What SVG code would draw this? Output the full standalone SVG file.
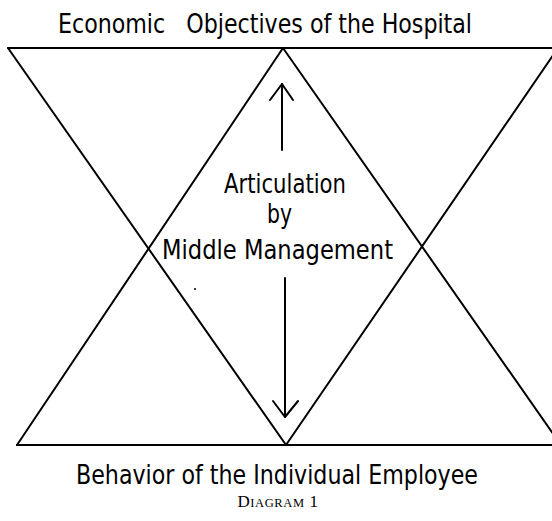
<svg xmlns="http://www.w3.org/2000/svg" width="552" height="521" viewBox="0 0 552 521">
  <style>
    .ln { stroke: #000; stroke-width: 2; fill: none; stroke-linecap: round; stroke-linejoin: round; }
    .lbl { font-family: "DejaVu Sans Condensed", "DejaVu Sans", sans-serif; font-size: 26px; fill: #000; }
    .cap { font-family: "Liberation Serif", serif; font-size: 17px; fill: #000; letter-spacing: 0.6px; }
  </style>
  <rect width="552" height="521" fill="#fff"/>

  <g id="connectors">
    <!-- frame edges -->
    <line class="ln" x1="8" y1="48" x2="552" y2="48"/>
    <line class="ln" x1="17" y1="445" x2="552" y2="445"/>
    <!-- crossing diagonals -->
    <line class="ln" x1="8" y1="48" x2="286" y2="445"/>
    <line class="ln" x1="283" y1="48" x2="17" y2="445"/>
    <line class="ln" x1="283" y1="48" x2="561" y2="445"/>
    <line class="ln" x1="558" y1="48" x2="286" y2="445"/>
    <!-- upward arrow -->
    <line class="ln" x1="282" y1="150" x2="282" y2="84"/>
    <polyline class="ln" points="270,100 282,84 293,100"/>
    <!-- downward arrow -->
    <line class="ln" x1="285" y1="278" x2="285" y2="417"/>
    <polyline class="ln" points="273,401 285,417 298,401"/>
  </g>

  <g id="top-label">
    <text class="lbl" x="58" y="33" textLength="414" lengthAdjust="spacingAndGlyphs" xml:space="preserve">Economic   Objectives of the Hospital</text>
  </g>

  <g id="middle-label">
    <text class="lbl" x="224" y="193" textLength="122" lengthAdjust="spacingAndGlyphs">Articulation</text>
    <text class="lbl" x="267" y="223" textLength="25" lengthAdjust="spacingAndGlyphs">by</text>
    <text class="lbl" x="162" y="259" textLength="231" lengthAdjust="spacingAndGlyphs">Middle Management</text>
  </g>

  <g id="bottom-label">
    <text class="lbl" x="76" y="484" textLength="402" lengthAdjust="spacingAndGlyphs">Behavior of the Individual Employee</text>
  </g>

  <g id="caption">
    <text class="cap" x="278" y="507" text-anchor="middle">D<tspan font-size="12.5">IAGRAM</tspan> 1</text>
  </g>

  <circle cx="195" cy="289" r="1" fill="#000"/>
</svg>
